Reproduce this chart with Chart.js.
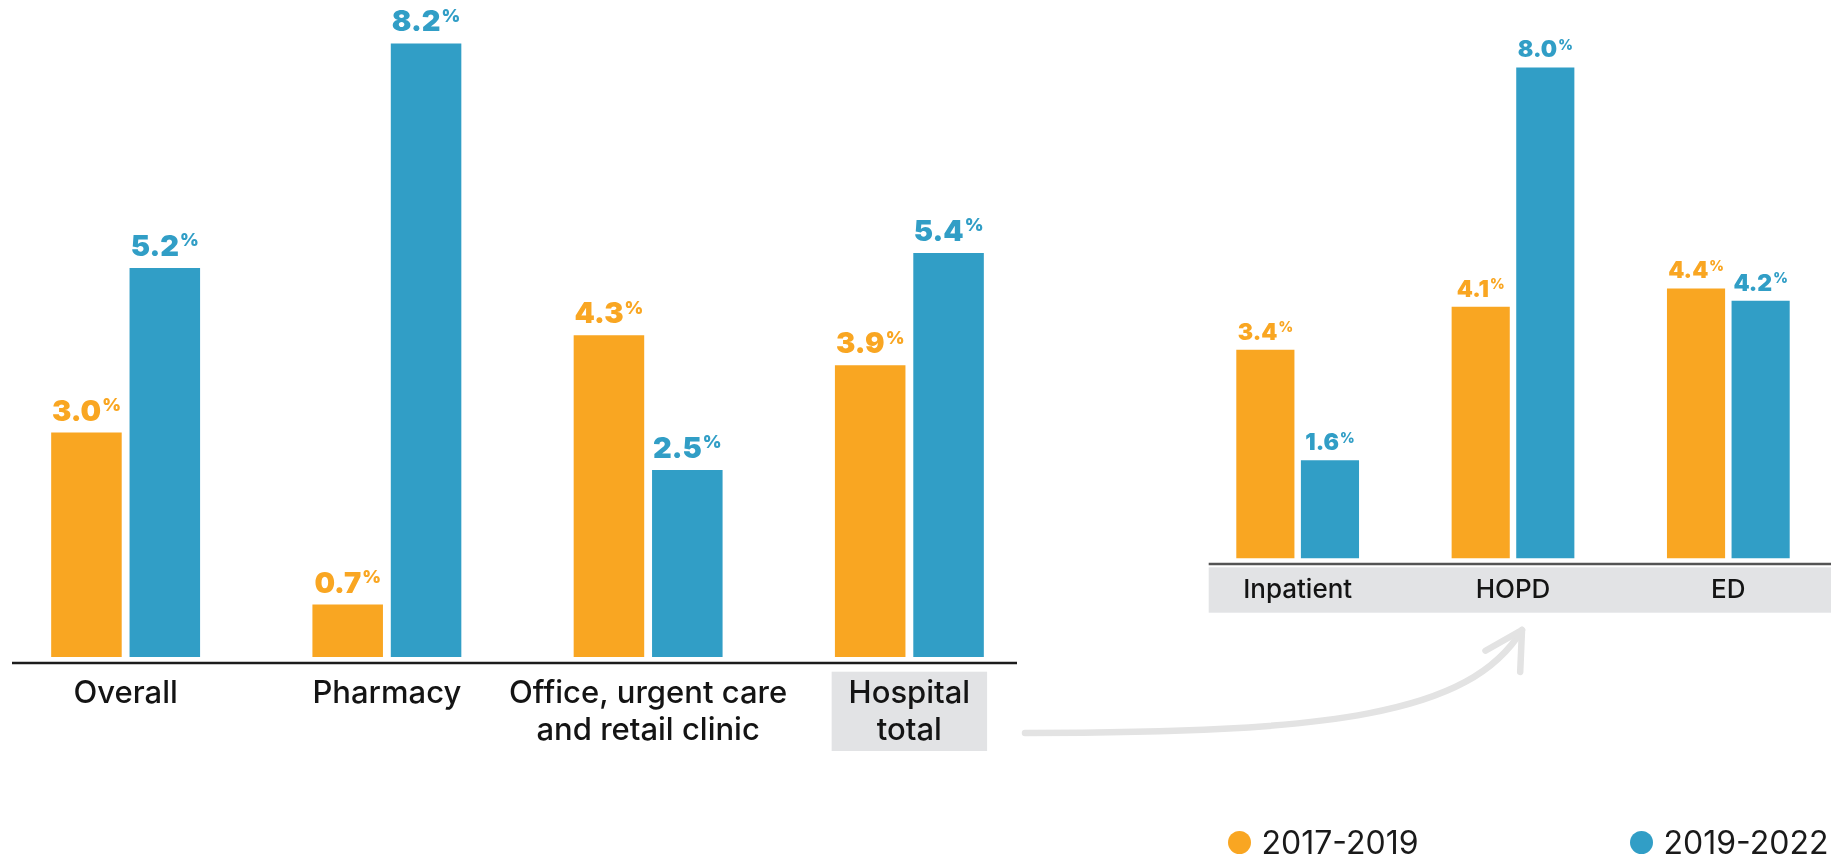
<!DOCTYPE html>
<html>
<head>
<meta charset="utf-8">
<title>Annual growth by site of care</title>
<script src="https://cdn.jsdelivr.net/npm/chart.js@4.4.1/dist/chart.umd.min.js"></script>
<style>
  html, body { margin: 0; padding: 0; background: #ffffff; width: 1831px; height: 856px; overflow: hidden; }
  #stage { position: relative; width: 1831px; height: 856px; overflow: hidden; }
  #siteChart { position: absolute; left: -5px; top: 0; }
  #hospitalChart { position: absolute; left: 1190px; top: 0; }
  #link { position: absolute; left: 0; top: 0; pointer-events: none; }
  .key { position: absolute; top: 822px; height: 40px; display: flex; align-items: center;
         font-family: Inter, "Liberation Sans", Arial, sans-serif; font-size: 32px; color: #1a1a1a; }
  .key i { display: inline-block; width: 23px; height: 23px; border-radius: 50%; margin-right: 11px; }
</style>
</head>
<body>
<div id="stage">
  <canvas id="siteChart" width="1045" height="760"></canvas>
  <canvas id="hospitalChart" width="646" height="640"></canvas>
  <svg id="link" width="1831" height="856"></svg>
</div>
<script>
// ---- data -------------------------------------------------------------
const seriesNames = ['2017-2019', '2019-2022'];
const seriesColors = ['#F9A622', '#319EC6'];

const siteCategories = ['Overall', 'Pharmacy', ['Office, urgent care', 'and retail clinic'], ['Hospital', 'total']];
const siteGrowth1719 = [3.0, 0.7, 4.3, 3.9];
const siteGrowth1922 = [5.2, 8.2, 2.5, 5.4];

const hospitalCategories = ['Inpatient', 'HOPD', 'ED'];
const hospitalGrowth1719 = [3.4, 4.1, 4.4];
const hospitalGrowth1922 = [1.6, 8.0, 4.2];

// ---- plugins ----------------------------------------------------------
// Value above each bar, with a small raised percent sign.
const barValueLabels = {
  id: 'barValueLabels',
  afterDatasetsDraw(chart, args, o) {
    const ctx = chart.ctx;
    const fam = 'Inter, "Liberation Sans", Arial, sans-serif';
    ctx.save();
    ctx.textAlign = 'left';
    ctx.textBaseline = 'alphabetic';
    chart.data.datasets.forEach((ds, di) => {
      const meta = chart.getDatasetMeta(di);
      meta.data.forEach((bar, i) => {
        const num = ds.data[i].toFixed(1);
        ctx.font = `900 ${o.size}px ${fam}`;
        const w1 = ctx.measureText(num).width;
        ctx.font = `900 ${o.pctSize}px ${fam}`;
        const w2 = ctx.measureText('%').width;
        const x0 = bar.x - (w1 + o.pctGap + w2) / 2;
        const base = bar.y - o.offset;
        ctx.fillStyle = ds.backgroundColor;
        ctx.font = `900 ${o.size}px ${fam}`;
        ctx.fillText(num, x0, base);
        ctx.font = `900 ${o.pctSize}px ${fam}`;
        const rise = (o.size - o.pctSize) * 0.727 + o.pctLift;
        ctx.fillText('%', x0 + w1 + o.pctGap, base - rise);
      });
    });
    ctx.restore();
  }
};

// Baseline rule under the bars and grey label band.
const axisDecor = {
  id: 'axisDecor',
  beforeDraw(chart, args, o) {
    const { ctx, chartArea: ca, width } = chart;
    const xs = chart.scales.x;
    ctx.save();
    if (o.band) {
      const b = o.band;
      let bx0, bx1;
      if (b.index != null) {
        const c = xs.getPixelForTick(b.index);
        const half = (xs.width / xs.ticks.length) * b.widthFrac / 2;
        bx0 = c - half; bx1 = c + half;
      } else {
        bx0 = ca.left + b.inset; bx1 = width;
      }
      ctx.fillStyle = b.color;
      ctx.fillRect(bx0, ca.bottom + b.top, bx1 - bx0, b.bottom - b.top);
    }
    const l = o.line;
    ctx.strokeStyle = l.color;
    ctx.lineWidth = l.width;
    ctx.beginPath();
    ctx.moveTo(ca.left + l.insetLeft, ca.bottom + l.gap);
    ctx.lineTo(l.toEdge ? width : ca.right - l.insetRight, ca.bottom + l.gap);
    ctx.stroke();
    ctx.restore();
  }
};

function makeDatasets(a, b) {
  return [a, b].map((values, k) => ({
    label: seriesNames[k],
    data: values,
    backgroundColor: seriesColors[k],
    borderWidth: 0,
    categoryPercentage: 0.6,
    barPercentage: 0.9
  }));
}

function buildChart(id, labels, a, b, cfg) {
  return new Chart(document.getElementById(id), {
    type: 'bar',
    data: { labels, datasets: makeDatasets(a, b) },
    options: {
      responsive: false,
      animation: false,
      devicePixelRatio: 1,
      layout: { padding: { top: cfg.padTop, left: 0, right: 0, bottom: 0 } },
      scales: {
        x: {
          offset: true,
          grid: { display: false, drawTicks: false },
          border: { display: false },
          ticks: {
            autoSkip: false, maxRotation: 0, minRotation: 0,
            padding: cfg.tickPad,
            color: '#141414',
            font: { family: 'Inter, "Liberation Sans", Arial, sans-serif', weight: '500', size: cfg.tickSize, lineHeight: cfg.tickLine }
          },
          afterFit(scale) { scale.height = cfg.axisHeight; }
        },
        y: { display: false, min: 0, max: cfg.yMax }
      },
      plugins: {
        legend: { display: false },
        tooltip: { enabled: false },
        barValueLabels: cfg.values,
        axisDecor: cfg.decor
      }
    },
    plugins: [axisDecor, barValueLabels]
  });
}

buildChart('siteChart', siteCategories, siteGrowth1719, siteGrowth1922, {
  padTop: 21, axisHeight: 103, yMax: 8.5,
  tickPad: 18.5, tickSize: 31, tickLine: 1.184,
  values: { size: 29, pctSize: 18, pctGap: 1, pctLift: 1.5, offset: 12 },
  decor: {
    line: { color: '#1c1c1c', width: 2.6, gap: 6, insetLeft: 17, insetRight: 23 },
    band: { index: 3, widthFrac: 0.595, top: 14.7, bottom: 94, color: '#e2e3e5' }
  }
});

buildChart('hospitalChart', hospitalCategories, hospitalGrowth1719, hospitalGrowth1922, {
  padTop: 6, axisHeight: 81.5, yMax: 9,
  tickPad: 15.6, tickSize: 26, tickLine: 1.2,
  values: { size: 23, pctSize: 14, pctGap: 1, pctLift: 1, offset: 10 },
  decor: {
    line: { color: '#545454', width: 2.4, gap: 5.5, insetLeft: 18.7, toEdge: true },
    band: { inset: 18.7, top: 8.8, bottom: 54.2, color: '#e2e3e5' }
  }
});

// Curved connector from "Hospital total" up to the hospital breakdown.
(function drawConnector() {
  const svg = document.getElementById('link');
  const ns = 'http://www.w3.org/2000/svg';
  const p0 = [1025, 733], c1 = [1330, 733], c2 = [1470, 715], tip = [1522, 630];
  const path = document.createElementNS(ns, 'path');
  path.setAttribute('d', `M${p0} C${c1} ${c2} ${tip}`);
  const head = document.createElementNS(ns, 'path');
  const back = Math.atan2(c2[1] - tip[1], c2[0] - tip[0]);
  const len = 42, spread = 29 * Math.PI / 180;
  const w1 = [tip[0] + len * Math.cos(back + spread), tip[1] + len * Math.sin(back + spread)];
  const w2 = [tip[0] + len * Math.cos(back - spread), tip[1] + len * Math.sin(back - spread)];
  head.setAttribute('d', `M${w1} L${tip} L${w2}`);
  [path, head].forEach(el => {
    el.setAttribute('fill', 'none');
    el.setAttribute('stroke', '#e3e3e3');
    el.setAttribute('stroke-width', '6.5');
    el.setAttribute('stroke-linecap', 'round');
    el.setAttribute('stroke-linejoin', 'round');
    svg.appendChild(el);
  });
})();

// Series key.
(function drawKey() {
  const stage = document.getElementById('stage');
  const lefts = [1227.5, 1629.5];
  seriesNames.forEach((name, k) => {
    const item = document.createElement('div');
    item.className = 'key';
    item.style.left = lefts[k] + 'px';
    const dot = document.createElement('i');
    dot.style.background = seriesColors[k];
    item.appendChild(dot);
    item.appendChild(document.createTextNode(name));
    stage.appendChild(item);
  });
})();
</script>
</body>
</html>
